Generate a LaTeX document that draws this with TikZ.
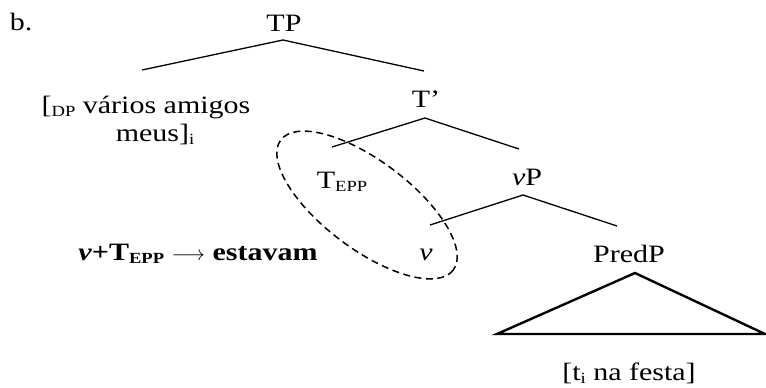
\documentclass[tikz,border=0pt]{standalone}
\usepackage{fontspec}
\setmainfont{Liberation Serif}[FakeStretch=1.2]
\newcommand{\mysub}[1]{\raisebox{-3.5pt}{\fontsize{15.5}{15.5}\selectfont #1}}
\begin{document}
\begin{tikzpicture}[x=1pt,y=-1pt,
  lab/.style={font=\fontsize{25}{28}\selectfont, inner sep=0pt, anchor=base},
  branch/.style={line width=1.3pt},
  tri/.style={line width=2.4pt, line join=miter},
  ring/.style={line width=1.5pt, dash pattern=on 7pt off 4.5pt}]
\useasboundingbox (0,0) rectangle (766,388);
\node[lab] (b) at (21,30) {b.};
\node[lab] (TP) at (284,31) {TP};
\node[lab] (DP1) at (146,113) {[\mysub{DP} vários amigos};
\node[lab] (DP2) at (155,141) {meus]\mysub{i}};
\node[lab] (Tbar) at (426,107) {T’};
\node[lab] (TEPP) at (342,188) {T\mysub{EPP}};
\node[lab] (vP) at (527,185) {\textit{v}P};
\node[lab] (v) at (426,260) {\textit{v}};
\node[lab] (PredP) at (629,262) {PredP};
\node[lab] (rule) at (198,260) {\textbf{\textit{v}+T\mysub{EPP} {\fontsize{21}{21}\selectfont$\longrightarrow$} estavam}};
\node[lab] (term) at (629,380) {[t\mysub{i} na festa]};
% branch endpoints
\coordinate (TPb) at (283,40);
\coordinate (DPt) at (142,70);
\coordinate (Tbt) at (424,71);
\coordinate (Tbb) at (425,118);
\coordinate (TEt) at (332,147);
\coordinate (vPt) at (519,149);
\coordinate (vPb) at (523,195);
\coordinate (vt) at (430,225);
\coordinate (Pt) at (617,226);
\draw[branch] (DPt) -- (TPb) -- (Tbt);
\draw[branch] (TEt) -- (Tbb) -- (vPt);
\draw[branch] (vt) -- (vPb) -- (Pt);
% triangle
\coordinate (apex) at (635,273);
\coordinate (bl) at (497,334);
\coordinate (br) at (765,334);
\draw[tri] (bl) -- (apex) -- (br) -- cycle;
% dashed ellipse
\coordinate (ec) at (367,205);
\draw[ring] (ec) ellipse[x radius=108, y radius=44, rotate=-37];
\end{tikzpicture}
\end{document}
